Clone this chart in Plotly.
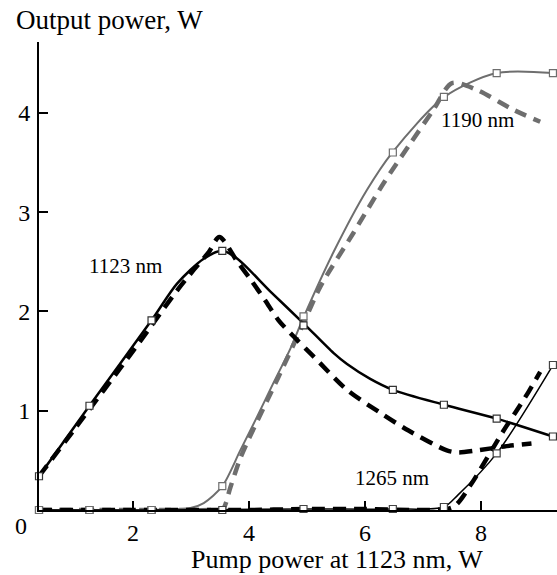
import plotly.graph_objects as go

# measured points (markers)
meas_x = [0.38, 1.25, 2.32, 3.54, 4.94, 6.48, 7.36, 8.27, 9.24]
meas_1123 = [0.34, 1.05, 1.91, 2.61, 1.86, 1.21, 1.06, 0.92, 0.74]
meas_1190 = [0.0, 0.0, 0.0, 0.24, 1.95, 3.60, 4.16, 4.40, 4.40]
meas_1265 = [0.0, 0.0, 0.0, 0.0, 0.01, 0.01, 0.03, 0.57, 1.46]

# smooth fitted curves through measurements
fit_1123_x = [0.38, 1.25, 2.32, 2.76, 3.22, 3.54, 3.80, 4.37, 4.94, 5.46, 5.69, 6.09, 6.48, 7.36, 8.27, 9.24]
fit_1123_y = [0.34, 1.05, 1.91, 2.28, 2.53, 2.61, 2.53, 2.20, 1.88, 1.58, 1.47, 1.32, 1.21, 1.06, 0.92, 0.74]
fit_1190_x = [0.38, 1.25, 2.32, 2.99, 3.22, 3.54, 3.85, 4.14, 4.43, 4.71, 4.94, 5.46, 6.03, 6.47, 7.37, 8.27, 9.24]
fit_1190_y = [0.0, 0.0, 0.0, 0.02, 0.07, 0.24, 0.60, 0.94, 1.29, 1.62, 1.94, 2.60, 3.22, 3.60, 4.16, 4.40, 4.40]
fit_1265_x = [0.38, 2.32, 4.94, 6.48, 7.36, 7.6, 8.27, 9.24]
fit_1265_y = [0.0, 0.0, 0.01, 0.01, 0.03, 0.15, 0.57, 1.46]

# calculated curves (dashed)
calc_1123_x = [0.38, 1.0, 2.0, 2.76, 3.05, 3.31, 3.49, 3.80, 4.03, 4.28, 4.51, 4.80, 5.09, 5.69, 6.26, 6.75, 7.41, 7.6, 7.93, 8.4, 8.87]
calc_1123_y = [0.34, 0.82, 1.60, 2.21, 2.42, 2.60, 2.75, 2.50, 2.32, 2.11, 1.91, 1.73, 1.56, 1.21, 0.98, 0.80, 0.60, 0.58, 0.60, 0.64, 0.67]
calc_1190_x = [0.38, 1.5, 2.5, 3.4, 3.55, 3.68, 3.85, 4.0, 4.5, 4.94, 5.23, 5.80, 6.32, 6.78, 7.18, 7.50, 7.93, 8.56, 9.02]
calc_1190_y = [0.0, 0.0, 0.0, 0.0, 0.01, 0.23, 0.52, 0.72, 1.33, 1.88, 2.25, 2.79, 3.29, 3.69, 4.03, 4.30, 4.23, 4.03, 3.91]
calc_1265_x = [0.38, 2.0, 4.0, 5.0, 6.0, 7.0, 7.52, 7.84, 8.13, 8.39, 8.59, 8.82, 9.02]
calc_1265_y = [0.0, 0.0, 0.0, 0.01, 0.01, 0.0, 0.03, 0.27, 0.55, 0.80, 0.98, 1.19, 1.39]

x_ticks = [2, 4, 6, 8]
y_ticks = [1, 2, 3, 4]
labels = {"1123 nm": (125, 266), "1190 nm": (477, 120), "1265 nm": (392, 478)}

GRAY = "#6e6e6e"
FONT = "Liberation Serif"
W, H = 557, 575
ML, MR, MT, MB = 39, 0, 42, 65

fig = go.Figure()

def line(x, y, color, width, dash=None):
    fig.add_trace(go.Scatter(x=x, y=y, mode="lines", cliponaxis=False,
                             line=dict(color=color, width=width, dash=dash, shape="spline", smoothing=0.8),
                             hoverinfo="skip", showlegend=False))

line(calc_1190_x, calc_1190_y, GRAY, 4.5, "12px,8px")
line(fit_1190_x, fit_1190_y, GRAY, 2)
line(calc_1123_x, calc_1123_y, "black", 4.5, "13px,8px")
line(fit_1123_x, fit_1123_y, "black", 2.5)
line(calc_1265_x, calc_1265_y, "black", 4.5, "13px,8px")
line(fit_1265_x, fit_1265_y, "black", 1.5)

def marks(x, y, color):
    fig.add_trace(go.Scatter(x=x, y=y, mode="markers", cliponaxis=False,
                             marker=dict(symbol="square", size=7, color="white",
                                         line=dict(color=color, width=1.2)),
                             hoverinfo="skip", showlegend=False))

marks(meas_x, meas_1265, "#444444")
marks(meas_x, meas_1190, GRAY)
marks(meas_x, meas_1123, "#333333")

ann = []
def px(xp, yp, text, size, xanchor="center"):
    ann.append(dict(x=(xp - ML) / (W - ML - MR), y=1 - (yp - MT) / (H - MT - MB),
                    xref="paper", yref="paper", text=text,
                    showarrow=False, xanchor=xanchor, yanchor="middle",
                    font=dict(family=FONT, size=size, color="black")))

for t, (xp, yp) in labels.items():
    px(xp, yp, t, 21)
px(14, 20, "Output power, W", 27, "left")
px(337, 559, "Pump power at 1123 nm, W", 26)
px(21, 526, "0", 24)

fig.update_layout(
    width=W, height=H,
    margin=dict(l=ML, r=MR, t=MT, b=MB, pad=0),
    paper_bgcolor="white", plot_bgcolor="white",
    annotations=ann,
    xaxis=dict(range=[0.38, 9.31], tickvals=x_ticks, ticks="inside", ticklen=9, tickwidth=2,
               tickcolor="black", showline=True, linecolor="black", linewidth=2,
               showgrid=False, zeroline=False, ticklabelstandoff=0,
               tickfont=dict(family=FONT, size=24, color="black")),
    yaxis=dict(range=[0, 4.713], tickvals=y_ticks, ticks="inside", ticklen=9, tickwidth=2,
               tickcolor="black", showline=True, linecolor="black", linewidth=2,
               showgrid=False, zeroline=False, ticklabelstandoff=2,
               tickfont=dict(family=FONT, size=24, color="black")),
)

fig.write_html("out.html")
